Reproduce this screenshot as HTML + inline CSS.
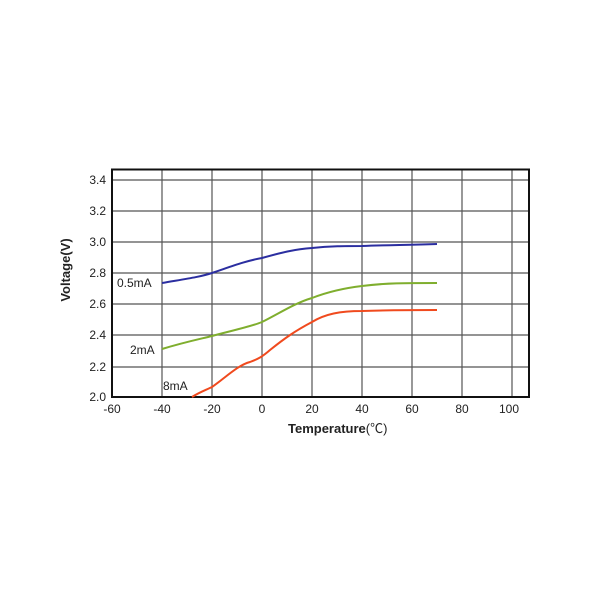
<!DOCTYPE html>
<html><head><meta charset="utf-8"><style>
html,body{margin:0;padding:0;background:#fff;width:600px;height:600px;overflow:hidden}
svg{display:block}
text{font-family:"Liberation Sans","Noto Sans CJK SC",sans-serif;font-size:12px;fill:#222}
</style></head><body>
<svg width="600" height="600" viewBox="0 0 600 600">
<g stroke="#555" stroke-width="1.2">
<line x1="162" y1="170" x2="162" y2="397"/><line x1="212" y1="170" x2="212" y2="397"/>
<line x1="262" y1="170" x2="262" y2="397"/><line x1="312" y1="170" x2="312" y2="397"/>
<line x1="362" y1="170" x2="362" y2="397"/><line x1="412" y1="170" x2="412" y2="397"/>
<line x1="462" y1="170" x2="462" y2="397"/><line x1="512" y1="170" x2="512" y2="397"/>
<line x1="112" y1="180" x2="529" y2="180"/><line x1="112" y1="211" x2="529" y2="211"/>
<line x1="112" y1="242" x2="529" y2="242"/><line x1="112" y1="273" x2="529" y2="273"/>
<line x1="112" y1="304" x2="529" y2="304"/><line x1="112" y1="335" x2="529" y2="335"/>
<line x1="112" y1="367" x2="529" y2="367"/>
</g>
<rect x="112" y="169.5" width="417" height="227.5" fill="none" stroke="#111" stroke-width="2"/>
<g fill="none" stroke-width="2" stroke-linejoin="round">
<path stroke="#2b2ea0" d="M162,283 C185,279 200,277 212,273 C230,267 245,261 262,258 C280,253 295,249 312,248 C330,246 345,246 362,246 C390,245 410,245 437,244"/>
<path stroke="#7fae2e" d="M162,349 C185,342 200,339 212,336 C230,331 250,327 262,322 C280,313 295,303 312,298 C330,291 345,288 362,286 C385,283 405,283 437,283"/>
<path stroke="#f04a1e" d="M192,397 C200,392 206,390 212,387 C225,378 238,365 250,362 C258,359 262,357 270,350 C285,338 295,331 312,322 C325,314 340,311 362,311 C390,310 410,310 437,310"/>
</g>
<g text-anchor="end">
<text x="106" y="184">3.4</text><text x="106" y="215">3.2</text><text x="106" y="246">3.0</text>
<text x="106" y="277">2.8</text><text x="106" y="308">2.6</text><text x="106" y="339">2.4</text>
<text x="106" y="371">2.2</text><text x="106" y="401">2.0</text>
</g>
<g text-anchor="middle">
<text x="112" y="413">-60</text><text x="162" y="413">-40</text><text x="212" y="413">-20</text>
<text x="262" y="413">0</text><text x="312" y="413">20</text><text x="362" y="413">40</text>
<text x="412" y="413">60</text><text x="462" y="413">80</text><text x="509" y="413">100</text>
</g>
<text x="117" y="287">0.5mA</text>
<text x="130" y="354">2mA</text>
<text x="163" y="390">8mA</text>
<text x="288" y="433" style="font-weight:bold;font-size:13px">Temperature<tspan style="font-weight:normal">(℃)</tspan></text>
<text transform="translate(70,270) rotate(-90)" text-anchor="middle" style="font-weight:bold;font-size:13px">Voltage(V)</text>
</svg>
</body></html>
